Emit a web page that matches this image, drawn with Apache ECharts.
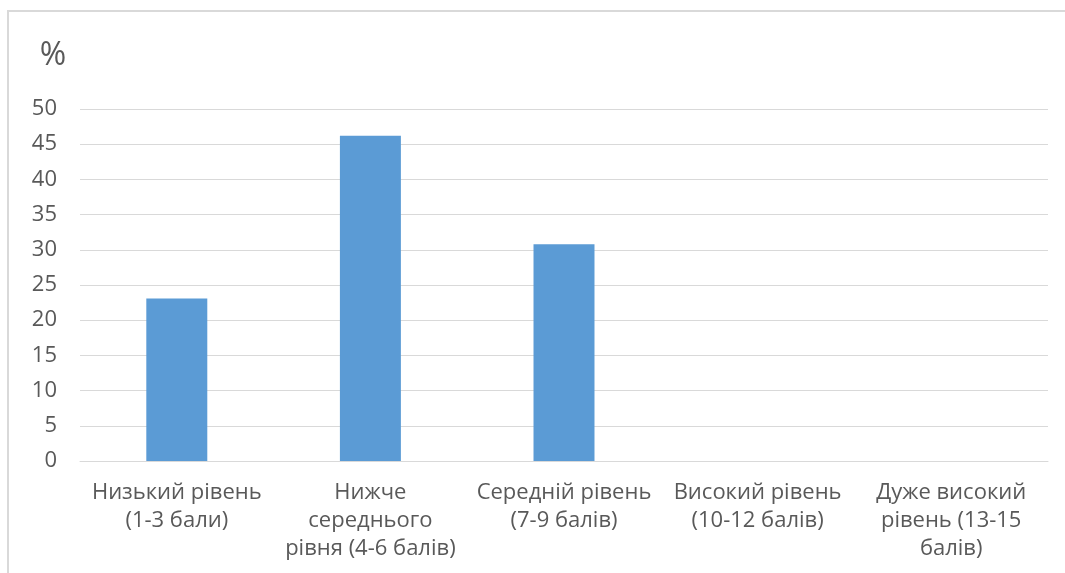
<!DOCTYPE html>
<html>
<head>
<meta charset="utf-8">
<script src="https://cdn.jsdelivr.net/npm/echarts@6/dist/echarts.min.js"></script>
<style>
  html, body { margin: 0; padding: 0; background: #ffffff; }
  #chart { width: 1065px; height: 573px; }
</style>
</head>
<body>
<div id="chart"></div>
<script>
// Рівні навчальних досягнень (відсоток учнів)
const categories = [
  'Низький рівень\n(1-3 бали)',
  'Нижче\nсереднього\nрівня (4-6 балів)',
  'Середній рівень\n(7-9 балів)',
  'Високий рівень\n(10-12 балів)',
  'Дуже високий\nрівень (13-15\nбалів)'
];
const percentValues = [23.1, 46.2, 30.8, 0, 0];
const yTicks = { min: 0, max: 50, step: 5 };
const unitLabel = '%';

const font = '"Open Sans", "Noto Sans", sans-serif';
const chart = echarts.init(document.getElementById('chart'), null, { renderer: 'canvas' });

chart.setOption({
  backgroundColor: '#ffffff',
  animation: false,
  graphic: [
    {
      type: 'rect',
      shape: { x: 8, y: 11, width: 1200, height: 700 },
      style: { fill: 'none', stroke: '#d9d9d9', lineWidth: 2 },
      silent: true
    },
    {
      type: 'text',
      x: 53,
      y: 56,
      style: {
        text: unitLabel,
        font: '32px ' + font,
        fill: '#595959',
        align: 'center',
        verticalAlign: 'middle'
      }
    }
  ],
  grid: { left: 80, right: 17, top: 109, bottom: 112, containLabel: false },
  xAxis: {
    type: 'category',
    data: categories,
    axisLine: { show: true, lineStyle: { color: '#d9d9d9', width: 1 } },
    axisTick: { show: false },
    axisLabel: {
      interval: 0,
      color: '#595959',
      fontFamily: font,
      fontSize: 22,
      lineHeight: 28,
      margin: 18,
      align: 'center'
    }
  },
  yAxis: {
    type: 'value',
    min: yTicks.min,
    max: yTicks.max,
    interval: yTicks.step,
    axisLine: { show: false },
    axisTick: { show: false },
    splitLine: { lineStyle: { color: '#d9d9d9', width: 1 } },
    axisLabel: {
      color: '#595959',
      fontFamily: font,
      fontSize: 22,
      margin: 23
    }
  },
  series: [{
    type: 'bar',
    data: percentValues,
    barWidth: '31.5%',
    itemStyle: { color: '#5b9bd5' }
  }]
});
</script>
</body>
</html>
